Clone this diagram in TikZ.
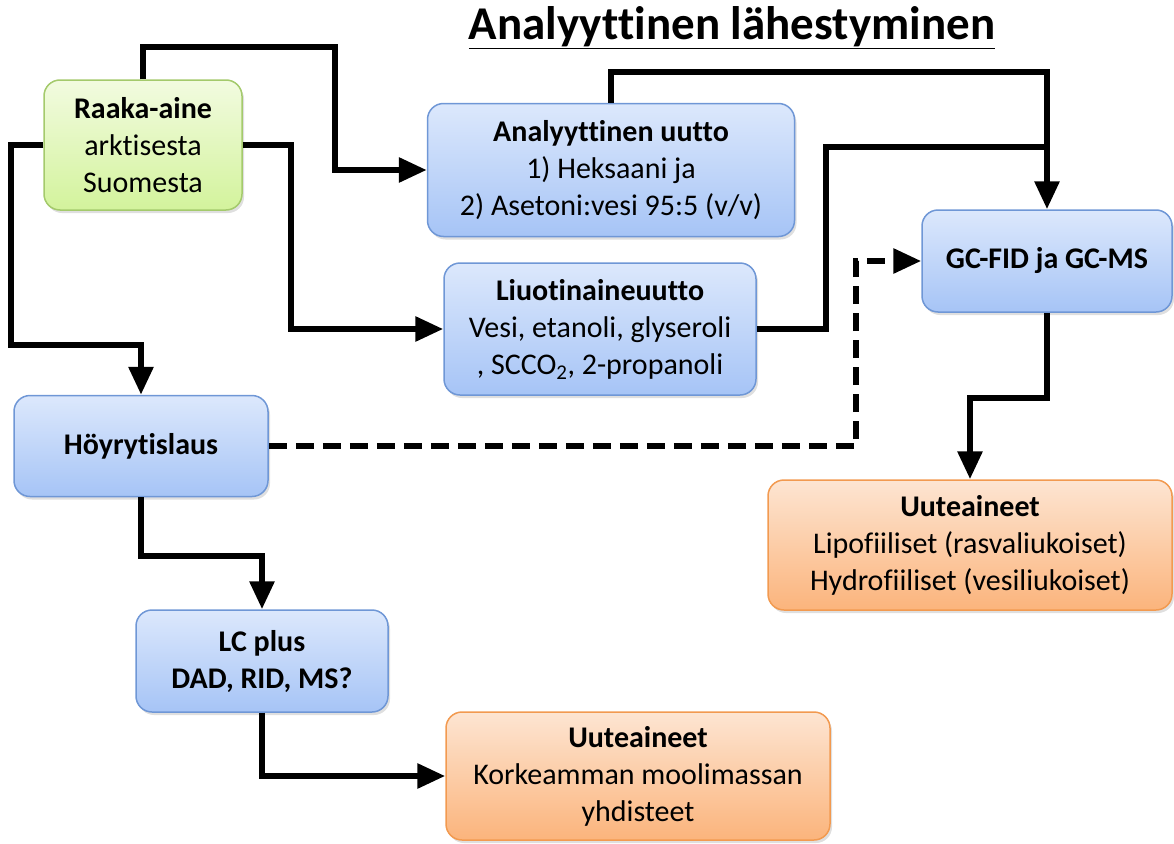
\documentclass[tikz,border=0pt]{standalone}
\usepackage{fontspec}
\setmainfont{Carlito}[Ligatures={NoCommon}]
\usetikzlibrary{arrows.meta,calc,shadows}

\definecolor{bluetop}{HTML}{DCE8FC}
\definecolor{bluebot}{HTML}{A6C4F6}
\definecolor{blueline}{HTML}{6F97D6}
\definecolor{greentop}{HTML}{F2FBE0}
\definecolor{greenbot}{HTML}{D3F39C}
\definecolor{greenline}{HTML}{A4CA6C}
\definecolor{orangetop}{HTML}{FDE5D2}
\definecolor{orangebot}{HTML}{FBB47C}
\definecolor{orangeline}{HTML}{F29A50}

\begin{document}
\begin{tikzpicture}[x=1pt, y=-1pt, >={Triangle[length=28pt,width=24pt]},
  box/.style={draw, rounded corners=16pt, line width=1.5pt, align=center,
    inner sep=0pt, font=\fontsize{30}{37}\selectfont,
    drop shadow={shadow xshift=2pt, shadow yshift=-3pt, opacity=0.25}},
  bluebox/.style={box, draw=blueline, top color=bluetop, bottom color=bluebot},
  greenbox/.style={box, draw=greenline, top color=greentop, bottom color=greenbot},
  orangebox/.style={box, draw=orangeline, top color=orangetop, bottom color=orangebot},
  flow/.style={->, line width=6pt}]
  \useasboundingbox (0,0) rectangle (1174,843);
  \node[font=\fontsize{47}{52}\selectfont\bfseries] (title) at (732,28) {\underline{Analyyttinen lähestyminen}};
  \node[greenbox, minimum width=198pt, minimum height=130pt] (raaka) at (143,145)
    {\textbf{Raaka-aine}\\arktisesta\\Suomesta};
  \node[bluebox, minimum width=367pt, minimum height=133pt] (analyt) at (611,170)
    {\textbf{Analyyttinen uutto}\\1) Heksaani ja\\2) Asetoni:vesi 95:5 (v/v)};
  \node[bluebox, minimum width=312pt, minimum height=132pt] (liuot) at (600,329)
    {\textbf{Liuotinaineuutto}\\Vesi, etanoli, glyseroli\\, SCCO\textsubscript{2}, 2-propanoli};
  \node[bluebox, minimum width=250pt, minimum height=102pt, font=\fontsize{30}{37}\selectfont\bfseries] (gc) at (1047,261)
    {GC-FID ja GC-MS};
  \node[bluebox, minimum width=254pt, minimum height=101pt, font=\fontsize{30}{37}\selectfont\bfseries] (hoyry) at (141,446)
    {Höyrytislaus};
  \node[orangebox, minimum width=404pt, minimum height=130pt] (uute1) at (970,545)
    {\textbf{Uuteaineet}\\Lipofiiliset (rasvaliukoiset)\\Hydrofiiliset (vesiliukoiset)};
  \node[bluebox, minimum width=252pt, minimum height=102pt, font=\fontsize{30}{37}\selectfont\bfseries] (lc) at (262,661)
    {LC plus\\DAD, RID, MS?};
  \node[orangebox, minimum width=384pt, minimum height=128pt] (uute2) at (638,776)
    {\textbf{Uuteaineet}\\Korkeamman moolimassan\\yhdisteet};

  \draw[flow] (raaka.north) -- ++(0,-32) -- ++(192,0) |- (analyt.west);
  \draw[flow] (raaka.west) -- ++(-32,0) -- ++(0,200) -| (hoyry.north);
  \draw[flow] (raaka.east) -- ++(48,0) |- (liuot.west);
  \draw[flow] (analyt.north) -- ++(0,-31) -| (gc.north);
  \draw[line width=6pt] (liuot.east) -- ++(69,0) |- ($(gc.north)+(0,-62)$);
  \draw[flow, dash pattern=on 18pt off 9pt] (hoyry.east) -- ++(587,0) |- (gc.west);
  \draw[flow] (gc.south) -- ++(0,85) -| (uute1.north);
  \draw[flow] (hoyry.south) -- ++(0,59) -| (lc.north);
  \draw[flow] (lc.south) |- (uute2.west);
\end{tikzpicture}
\end{document}
